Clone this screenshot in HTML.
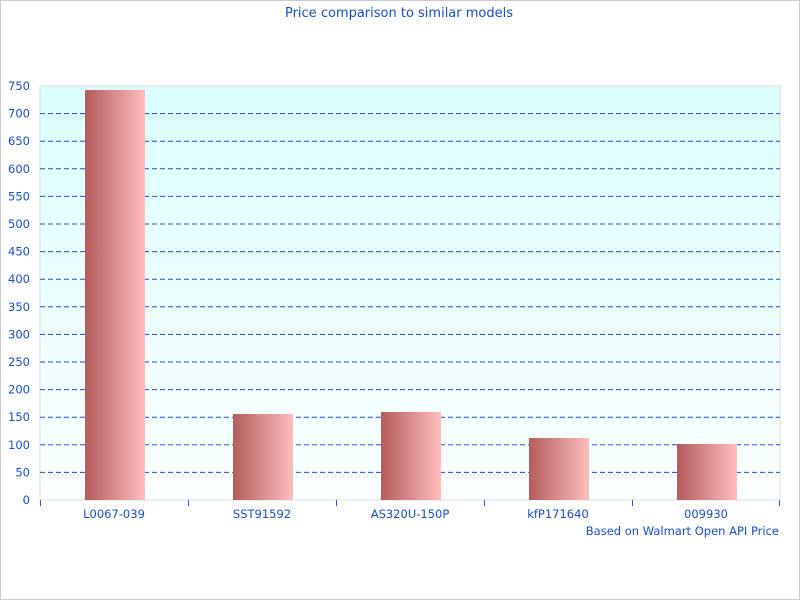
<!DOCTYPE html>
<html><head><meta charset="utf-8"><style>body{margin:0}svg{display:block}</style></head><body>
<svg width="800" height="600" xmlns="http://www.w3.org/2000/svg" font-family="DejaVu Sans, sans-serif">
<defs>
<linearGradient id="bg" x1="0" y1="0" x2="0" y2="1"><stop offset="0" stop-color="#dcffff"/><stop offset="1" stop-color="#fafefe"/></linearGradient>
<linearGradient id="bar" x1="0" y1="0" x2="1" y2="0"><stop offset="0" stop-color="#b35c5c"/><stop offset="1" stop-color="#ffbebe"/></linearGradient>
</defs>
<rect x="0.5" y="0.5" width="799" height="599" fill="#fff" stroke="#ccc"/>
<text x="399" y="17" text-anchor="middle" font-size="13" fill="#1a4fc9">Price comparison to similar models</text>
<rect x="40" y="86" width="740" height="414" fill="url(#bg)" stroke="#ddd"/>
<g stroke="#1f4fc8" stroke-dasharray="5,3" stroke-width="1">
<line x1="40" x2="780" y1="472.4" y2="472.4"/><line x1="40" x2="780" y1="444.8" y2="444.8"/><line x1="40" x2="780" y1="417.2" y2="417.2"/><line x1="40" x2="780" y1="389.6" y2="389.6"/><line x1="40" x2="780" y1="362" y2="362"/><line x1="40" x2="780" y1="334.4" y2="334.4"/><line x1="40" x2="780" y1="306.8" y2="306.8"/><line x1="40" x2="780" y1="279.2" y2="279.2"/><line x1="40" x2="780" y1="251.6" y2="251.6"/><line x1="40" x2="780" y1="224" y2="224"/><line x1="40" x2="780" y1="196.4" y2="196.4"/><line x1="40" x2="780" y1="168.8" y2="168.8"/><line x1="40" x2="780" y1="141.2" y2="141.2"/><line x1="40" x2="780" y1="113.6" y2="113.6"/>
</g>
<g fill="url(#bar)">
<rect x="85" y="90" width="60" height="410"/>
<rect x="233" y="414" width="60" height="86"/>
<rect x="381" y="412" width="60" height="88"/>
<rect x="529" y="438" width="60" height="62"/>
<rect x="677" y="444" width="60" height="56"/>
</g>
<g stroke="#2a5bd0"><line x1="40.5" y1="500" x2="40.5" y2="506"/><line x1="188.5" y1="500" x2="188.5" y2="506"/><line x1="336.5" y1="500" x2="336.5" y2="506"/><line x1="484.5" y1="500" x2="484.5" y2="506"/><line x1="632.5" y1="500" x2="632.5" y2="506"/><line x1="779.5" y1="500" x2="779.5" y2="506"/></g>
<g font-size="11.5" fill="#1a4fc9" text-anchor="end">
<text x="30" y="504">0</text><text x="30" y="476.4">50</text><text x="30" y="448.8">100</text><text x="30" y="421.2">150</text><text x="30" y="393.6">200</text><text x="30" y="366">250</text><text x="30" y="338.4">300</text><text x="30" y="310.8">350</text><text x="30" y="283.2">400</text><text x="30" y="255.6">450</text><text x="30" y="228">500</text><text x="30" y="200.4">550</text><text x="30" y="172.8">600</text><text x="30" y="145.2">650</text><text x="30" y="117.6">700</text><text x="30" y="90">750</text>
</g>
<g font-size="11.5" fill="#1a4fc9" text-anchor="middle">
<text x="114" y="518">L0067-039</text><text x="262" y="518">SST91592</text><text x="410" y="518">AS320U-150P</text><text x="558" y="518">kfP171640</text><text x="706" y="518">009930</text>
</g>
<text x="779" y="535" font-size="11.5" fill="#1a4fc9" text-anchor="end">Based on Walmart Open API Price</text>
</svg>
</body></html>
